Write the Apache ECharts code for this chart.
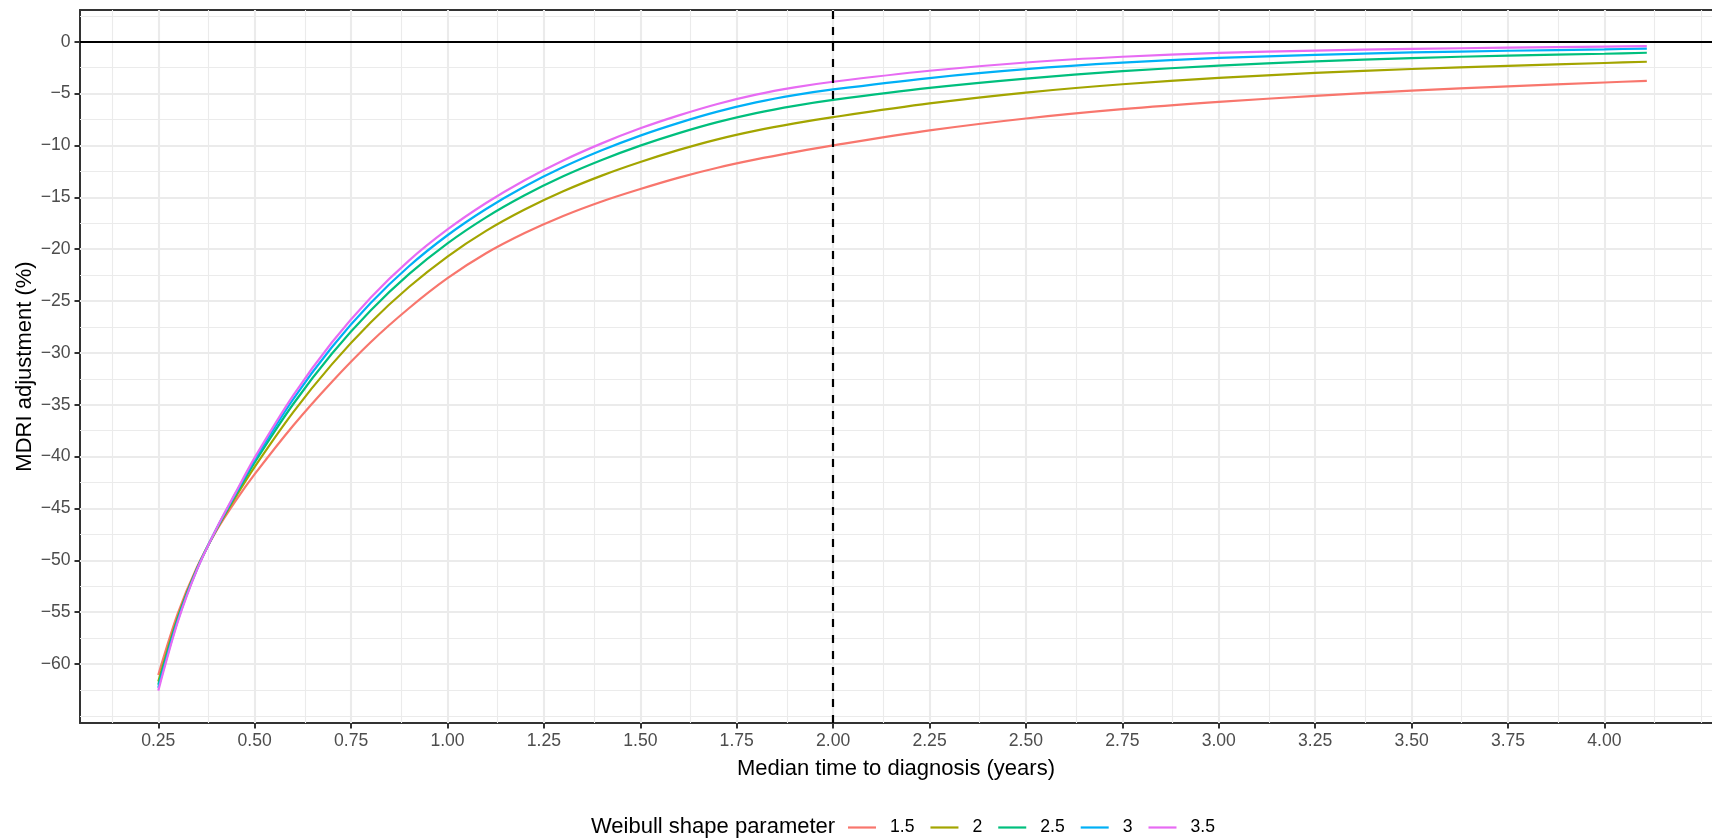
<!DOCTYPE html>
<html>
<head>
<meta charset="utf-8">
<script src="https://cdn.jsdelivr.net/npm/echarts@6/dist/echarts.min.js"></script>
<style>
html,body{margin:0;padding:0;background:#fff;}
#chart{width:1712px;height:840px;}
</style>
</head>
<body>
<div id="chart"></div>
<script>
// ---- data ----
const xValues = [0.25,0.30,0.35,0.40,0.45,0.50,0.60,0.70,0.80,0.90,1.00,1.10,1.20,1.30,1.40,1.50,1.60,1.70,1.80,1.90,2.00,2.25,2.50,2.75,3.00,3.25,3.50,3.75,4.00,4.11];
const shapeNames = ['1.5','2','2.5','3','3.5'];
const shape15 = [-61.06,-55.2,-50.7,-47.2,-44.3,-41.7,-37.0,-32.8,-29.0,-25.7,-22.8,-20.4,-18.45,-16.8,-15.4,-14.2,-13.1,-12.15,-11.35,-10.65,-10.0,-8.55,-7.4,-6.5,-5.8,-5.22,-4.72,-4.3,-3.93,-3.77];
const shape20 = [-61.69,-55.54,-50.81,-47.11,-43.94,-40.99,-35.71,-31.11,-27.09,-23.65,-20.71,-18.24,-16.18,-14.42,-12.91,-11.6,-10.43,-9.41,-8.57,-7.87,-7.27,-5.95,-4.9,-4.1,-3.49,-3.01,-2.63,-2.32,-2.05,-1.93];
const shape25 = [-62.0,-55.70,-50.86,-47.06,-43.73,-40.56,-34.93,-30.08,-25.93,-22.41,-19.44,-16.93,-14.8,-12.97,-11.4,-10.02,-8.81,-7.75,-6.88,-6.18,-5.61,-4.45,-3.55,-2.84,-2.31,-1.90,-1.58,-1.33,-1.16,-1.06];
const shape30 = [-62.30,-55.86,-50.9,-47.02,-43.60,-40.29,-34.45,-29.46,-25.22,-21.65,-18.66,-16.13,-13.96,-12.09,-10.47,-9.05,-7.82,-6.74,-5.85,-5.15,-4.60,-3.50,-2.65,-2.02,-1.56,-1.27,-1.03,-0.87,-0.73,-0.66];
const shape35 = [-62.57,-56.0,-50.95,-47.0,-43.5,-40.1,-34.1,-29.0,-24.7,-21.1,-18.1,-15.55,-13.35,-11.45,-9.8,-8.35,-7.1,-6.0,-5.1,-4.4,-3.86,-2.8,-2.0,-1.45,-1.08,-0.85,-0.69,-0.57,-0.47,-0.42];
const seriesValues = [shape15, shape20, shape25, shape30, shape35];
const xTickLabels = [0.25,0.50,0.75,1.00,1.25,1.50,1.75,2.00,2.25,2.50,2.75,3.00,3.25,3.50,3.75,4.00];
const xMinorGrid = [0.125,0.375,0.625,0.875,1.125,1.375,1.625,1.875,2.125,2.375,2.625,2.875,3.125,3.375,3.625,3.875,4.125,4.25];
const yTickLabels = [0,-5,-10,-15,-20,-25,-30,-35,-40,-45,-50,-55,-60];
const yMinorGrid = [2.5,-2.5,-7.5,-12.5,-17.5,-22.5,-27.5,-32.5,-37.5,-42.5,-47.5,-52.5,-57.5,-62.5,-65];
const hlineY = 0;
const vlineX = 2;
const legendTitle = 'Weibull shape parameter';
const xTitle = 'Median time to diagnosis (years)';
const yTitle = 'MDRI adjustment (%)';

// ---- styles ----
const colors = ['#F8766D','#A3A500','#00BF7D','#00B0F6','#E76BF3'];
const FONT = '"Liberation Sans", Arial, Helvetica, sans-serif';
const gridColor = '#EBEBEB';
const X_MIN = 0.047, X_MAX = 4.279, Y_MIN = -65.69, Y_MAX = 3.06;

const gridLines = [];
xMinorGrid.forEach(v => gridLines.push({xAxis: v, lineStyle: {color: gridColor, width: 1.1, type: 'solid'}}));
yMinorGrid.forEach(v => gridLines.push({yAxis: v, lineStyle: {color: gridColor, width: 1.1, type: 'solid'}}));
xTickLabels.forEach(v => gridLines.push({xAxis: v, lineStyle: {color: gridColor, width: 2.1, type: 'solid'}}));
yTickLabels.forEach(v => gridLines.push({yAxis: v, lineStyle: {color: gridColor, width: 2.1, type: 'solid'}}));

const series = [{
  name: '__grid', type: 'line', data: [], silent: true, z: 1,
  markLine: {
    silent: true, symbol: ['none','none'], z: 1, animation: false,
    label: {show: false}, emphasis: {disabled: true},
    data: gridLines
  }
}];
shapeNames.forEach((nm, i) => {
  series.push({
    name: nm, type: 'line', z: 3,
    data: xValues.map((x, j) => [x, seriesValues[i][j]]),
    showSymbol: false, symbol: 'none',
    smooth: 0.3,
    lineStyle: {color: colors[i], width: 2.2},
    itemStyle: {color: colors[i]},
    emphasis: {disabled: true}
  });
});
series.push({
  name: '__ref', type: 'line', data: [], silent: true, z: 10,
  markLine: {
    silent: true, symbol: ['none','none'], z: 10, animation: false,
    label: {show: false}, emphasis: {disabled: true},
    data: [
      {yAxis: hlineY, lineStyle: {color: '#000', width: 2.2, type: 'solid'}},
      {xAxis: vlineX, lineStyle: {color: '#000', width: 2.2, type: [8, 8]}}
    ]
  }
});

const borderLine = {show: true, onZero: false, lineStyle: {color: '#333333', width: 2}};
const chart = echarts.init(document.getElementById('chart'), null, {renderer: 'canvas'});
chart.setOption({
  animation: false,
  backgroundColor: '#fff',
  grid: {left: 80, top: 10, bottom: 117, right: 0, show: false, containLabel: false},
  xAxis: [{
    type: 'value', min: X_MIN, max: X_MAX, position: 'bottom',
    name: xTitle, nameLocation: 'middle', nameGap: 35, nameMoveOverlap: false,
    nameTextStyle: {fontFamily: FONT, fontSize: 22, color: '#000'},
    axisLine: borderLine,
    axisTick: {show: true, length: 5.5, customValues: xTickLabels, lineStyle: {color: '#333333', width: 2}},
    axisLabel: {customValues: xTickLabels, margin: 9.5, fontFamily: FONT, fontSize: 17.6, color: '#4D4D4D', formatter: v => Number(v).toFixed(2)},
    splitLine: {show: false}, minorSplitLine: {show: false}
  }, {
    type: 'value', min: X_MIN, max: X_MAX, position: 'top',
    axisLine: borderLine, axisTick: {show: false}, axisLabel: {show: false},
    splitLine: {show: false}, minorSplitLine: {show: false}
  }],
  yAxis: {
    type: 'value', min: Y_MIN, max: Y_MAX, position: 'left',
    name: yTitle, nameLocation: 'middle', nameGap: 44, nameMoveOverlap: false,
    nameTextStyle: {fontFamily: FONT, fontSize: 22, color: '#000'},
    axisLine: borderLine,
    axisTick: {show: true, length: 5.5, customValues: yTickLabels, lineStyle: {color: '#333333', width: 2}},
    axisLabel: {customValues: yTickLabels, margin: 9.5, fontFamily: FONT, fontSize: 17.6, color: '#4D4D4D', formatter: v => String(v).replace('-', '\u2212')},
    splitLine: {show: false}, minorSplitLine: {show: false}
  },
  legend: {
    data: shapeNames.map(n => ({name: n, icon: 'rect'})), left: 848, top: 818.5, padding: 0,
    itemWidth: 28, itemHeight: 2.2, itemGap: 16,
    textStyle: {fontFamily: FONT, fontSize: 17.6, color: '#000', padding: [0, 0, 0, 9]},
    selectedMode: false
  },
  graphic: [{
    type: 'text', x: 591, y: 827,
    style: {text: legendTitle, fontFamily: FONT, fontSize: 22, fill: '#000', align: 'left', verticalAlign: 'middle'}
  }],
  series: series
});
</script>
</body>
</html>
